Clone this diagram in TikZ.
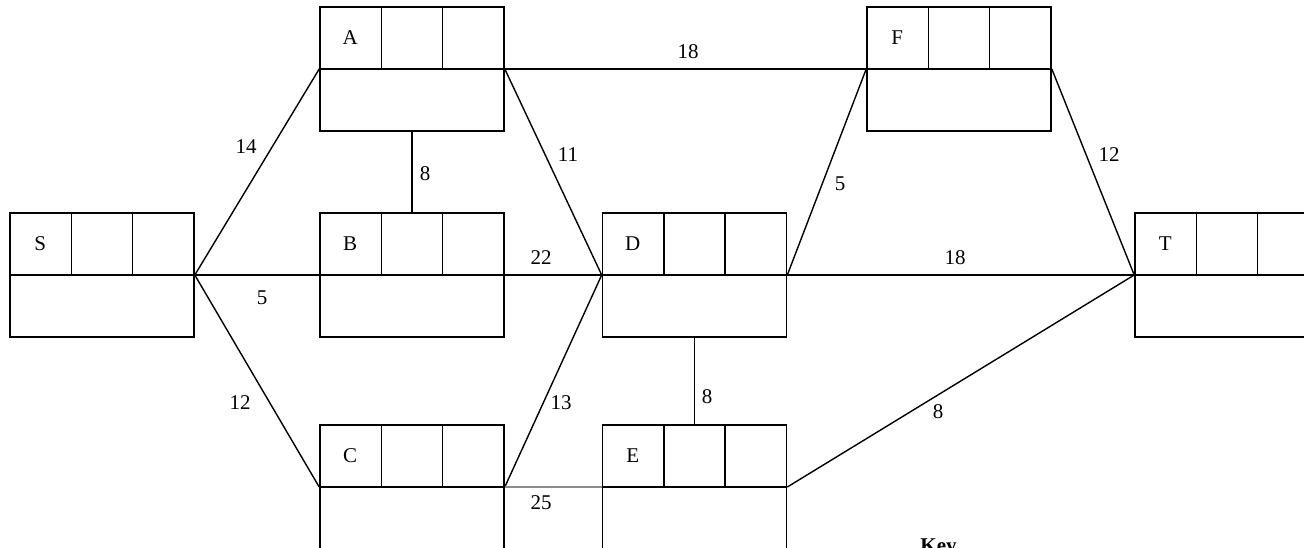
\documentclass[tikz,border=0pt]{standalone}
\usepackage{fontspec}
\setmainfont{Liberation Serif}
\usetikzlibrary{calc}
\tikzset{
  event/.style={draw, line width=0.8pt, minimum width=92pt, minimum height=62pt, inner sep=0pt,
    path picture={
      \draw[line width=0.8pt] (path picture bounding box.west) -- (path picture bounding box.east);
      \draw[line width=0.8pt] ($(path picture bounding box.north west)!1/3!(path picture bounding box.north east)$) -- ($(path picture bounding box.west)!1/3!(path picture bounding box.east)$);
      \draw[line width=0.8pt] ($(path picture bounding box.north west)!2/3!(path picture bounding box.north east)$) -- ($(path picture bounding box.west)!2/3!(path picture bounding box.east)$);
    }},
  activity/.style={line width=0.7pt},
  weight/.style={font=\fontsize{10.5}{12}\selectfont, inner sep=1pt},
}
\begin{document}
\begin{tikzpicture}[x=0.5pt, y=-0.5pt]
  \useasboundingbox (0,0) rectangle (1304,547);
  % events
  \node[event] (S) at (102,275) {};
  \node[event] (A) at (412,69) {};
  \node[event] (B) at (412,275) {};
  \node[event] (C) at (412,487) {};
  \node[event] (D) at (694.5,275) {};
  \node[event] (E) at (694.5,487) {};
  \node[event] (F) at (959,69) {};
  \node[event] (T) at (1227,275) {};
  \foreach \n in {S,A,B,C,D,E,F,T}
    \node[weight] (\n-name) at ($(\n.north west)+(15.5pt,-15.5pt)$) {\n};
  % activities
  \draw[activity] (S.east) -- (A.west);
  \draw[activity] (S.east) -- (B.west);
  \draw[activity] (S.east) -- (C.west);
  \draw[activity] (A.south) -- (B.north);
  \draw[activity] (A.east) -- (F.west);
  \draw[activity] (A.east) -- (D.west);
  \draw[activity] (B.east) -- (D.west);
  \draw[activity] (C.east) -- (D.west);
  \draw[activity, black!45] (C.east) -- (E.west);
  \draw[activity] (D.south) -- (E.north);
  \draw[activity] (D.east) -- (F.west);
  \draw[activity] (D.east) -- (T.west);
  \draw[activity] (F.east) -- (T.west);
  \draw[activity] (E.east) -- (T.west);
  % durations
  \node[weight] (w-SA) at (246,147) {14};
  \node[weight] (w-SB) at (262,298) {5};
  \node[weight] (w-SC) at (240,403) {12};
  \node[weight] (w-AB) at (425,174) {8};
  \node[weight] (w-AF) at (688,52) {18};
  \node[weight] (w-AD) at (568,155) {11};
  \node[weight] (w-BD) at (541,258) {22};
  \node[weight] (w-CD) at (561,403) {13};
  \node[weight] (w-CE) at (541,503) {25};
  \node[weight] (w-DE) at (707,397) {8};
  \node[weight] (w-DF) at (840,184) {5};
  \node[weight] (w-DT) at (955,258) {18};
  \node[weight] (w-FT) at (1109,155) {12};
  \node[weight] (w-ET) at (938,412) {8};
  \node[weight, font=\fontsize{10.5}{12}\selectfont\bfseries, anchor=north west, inner sep=0pt] (key) at (920,538) {Key};
\end{tikzpicture}
\end{document}
